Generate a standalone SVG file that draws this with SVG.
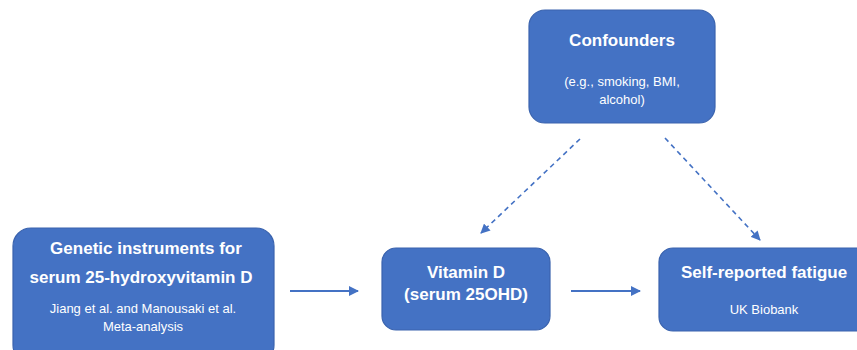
<svg xmlns="http://www.w3.org/2000/svg" width="857" height="350" viewBox="0 0 857 350">
<defs>
<style>
.box{fill:#4472C4;stroke:#3A63AE;stroke-width:1.2}
.t{font-family:"Liberation Sans",Arial,sans-serif;font-weight:bold;font-size:17px;fill:#fff;text-anchor:middle}
.s{font-family:"Liberation Sans",Arial,sans-serif;font-size:13px;fill:#fff;text-anchor:middle}
.c{stroke:#4472C4;stroke-width:2;fill:none}
.d{stroke:#4472C4;stroke-width:1.6;fill:none;stroke-dasharray:5 4}
</style>
<marker id="ah" viewBox="0 0 10 10" refX="9" refY="5" markerWidth="5" markerHeight="5" orient="auto" markerUnits="strokeWidth">
<path d="M0,0 L10,5 L0,10 z" fill="#4472C4"/>
</marker>
<marker id="ahd" viewBox="0 0 10 10" refX="9" refY="5" markerWidth="6" markerHeight="6" orient="auto" markerUnits="strokeWidth">
<path d="M0,0 L10,5 L0,10 z" fill="#4472C4"/>
</marker>
</defs>
<rect width="857" height="350" fill="#fff"/>
<g id="connectors">
<line class="c" x1="290" y1="291" x2="358" y2="291" marker-end="url(#ah)"/>
<line class="c" x1="571" y1="291" x2="640" y2="291" marker-end="url(#ah)"/>
<line class="d" x1="580" y1="139" x2="481" y2="233" marker-end="url(#ahd)"/>
<line class="d" x1="665" y1="138" x2="760" y2="240" marker-end="url(#ahd)"/>
</g>
<g id="confounders">
<rect class="box" x="529" y="10" width="186" height="113" rx="16"/>
<text class="t" x="622" y="46">Confounders</text>
<text class="s" x="622" y="86">(e.g., smoking, BMI,</text>
<text class="s" x="622" y="104">alcohol)</text>
</g>
<g id="genetic">
<rect class="box" x="13" y="228" width="261" height="135" rx="18"/>
<text class="t" x="146" y="254">Genetic instruments for</text>
<text class="t" x="141" y="283">serum 25-hydroxyvitamin D</text>
<text class="s" x="143" y="313">Jiang et al. and Manousaki et al.</text>
<text class="s" x="143" y="331">Meta-analysis</text>
</g>
<g id="vitamin">
<rect class="box" x="382" y="248" width="168" height="82" rx="14"/>
<text class="t" x="466" y="278">Vitamin D</text>
<text class="t" x="466" y="300">(serum 25OHD)</text>
</g>
<g id="fatigue">
<rect class="box" x="659" y="248" width="215" height="83" rx="14"/>
<text class="t" x="764" y="278">Self-reported fatigue</text>
<text class="s" x="764" y="314">UK Biobank</text>
</g>
</svg>
